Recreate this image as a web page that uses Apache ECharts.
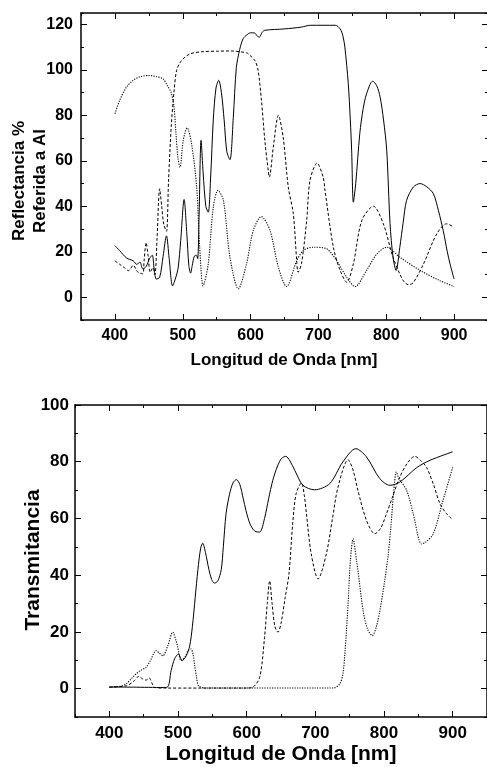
<!DOCTYPE html>
<html lang="es">
<head>
<meta charset="UTF-8">
<title>Reflectancia y Transmitancia</title>
<script src="https://cdn.jsdelivr.net/npm/echarts@6.0.0/dist/echarts.min.js"></script>
<style>
  html, body { margin: 0; padding: 0; background: #fff; }
  #chart { width: 487px; height: 767px; }
</style>
</head>
<body>
<div id="chart"></div>
<script>
// ticks
var xMajor = [400, 500, 600, 700, 800, 900];
var refMajor = [0, 20, 40, 60, 80, 100, 120];
var traMajor = [0, 20, 40, 60, 80, 100];

// Reflectancia % (top plot)
var refSolidNm  = [400, 407, 417, 427, 432, 437, 441, 446, 451, 455, 458, 461, 466, 471, 476, 480, 485, 489, 493, 497, 502, 506, 509, 511.6, 514, 517, 520, 522, 524, 527, 530, 534, 537.6, 541, 545, 549, 553, 557, 561, 565, 569.6, 574.5, 579, 584, 589, 595, 600, 606, 610, 613, 617, 621, 650, 675, 688, 725, 732, 736, 739, 744, 747, 749, 751.5, 755, 761, 766, 771, 780, 786, 791, 796, 800.7, 805.6, 810, 814.5, 820, 825, 830, 840, 850, 860, 869.5, 877, 884, 890, 894, 900];
var refSolidVal = [22.7, 20.5, 17.3, 16, 14.5, 15.4, 12.5, 13.5, 17, 18.5, 12, 8, 8.8, 18, 27, 17, 5, 8, 12.5, 25, 43, 28, 14, 10.6, 14, 18, 18.5, 17, 35, 69, 55, 40, 37.4, 52, 78, 92, 95.4, 90, 78, 64, 60.5, 79, 101, 109, 113.7, 115.5, 116.3, 116.2, 114.8, 114.4, 116.5, 117.4, 118, 118.8, 119.6, 119.6, 118, 115, 110, 94, 78, 64.6, 41.8, 50, 72, 83, 89.5, 95, 93, 88, 78, 64.6, 32.4, 17.6, 11.8, 22, 33, 42.6, 48.5, 50, 48.5, 45.5, 38, 29.3, 20, 14.7, 8];

var refDashNm  = [400, 407, 414, 420, 427, 434, 441, 443, 446, 449, 452, 456, 459, 462, 466, 469, 472, 476, 479, 483, 487, 491, 498, 510.6, 530, 550, 570, 594, 599, 606.5, 611, 616, 621, 626, 627.6, 633.5, 641, 648, 655.6, 663, 668, 670, 675, 682.7, 687.6, 698, 707, 709.7, 722, 732, 741.7, 751.5, 764, 781, 795.7, 810, 825, 833, 840, 855, 874.5, 889, 900];
var refDashVal = [16, 14.5, 13, 11.7, 14, 11, 10.3, 16, 24, 18, 11, 13, 10, 25, 47.7, 40, 32, 29, 51, 75, 90, 99.8, 104, 107, 108, 108.2, 108.3, 107.5, 106.4, 104, 100, 86.6, 69, 55.8, 52.8, 66, 80, 70.4, 48.4, 36.7, 16, 11, 14.7, 33.8, 51.4, 59, 52.8, 47, 22, 11.8, 6.6, 14.7, 33.8, 40, 32.3, 17.6, 7.3, 5.5, 6.5, 14.7, 27.9, 32.3, 30.8];

var refDotNm  = [400, 407, 417, 427, 437, 450, 461.5, 471, 478.6, 483, 487, 490, 493, 496, 500.7, 506.6, 513, 520.5, 525, 530, 537.6, 545, 552, 560, 569.6, 582, 594, 604, 616, 628.6, 641, 653, 668, 678, 692.5, 712, 727, 741.7, 754, 771, 786, 800.7, 820, 850, 879, 900];
var refDotVal = [80.7, 86.6, 92.4, 95.4, 97, 97.5, 97, 96, 92.4, 90, 84, 72, 61, 57.2, 69, 74.5, 67.5, 48.4, 22, 5, 14.7, 39.6, 47, 42.6, 17.6, 3.7, 14.7, 29.4, 35.5, 29.4, 13.2, 4.7, 16, 20.6, 22, 21.3, 16, 8.8, 4.7, 11.8, 19, 22, 17.6, 11.8, 7.3, 4.7];

// Transmitancia (bottom plot)
var traSolidNm  = [400, 440, 483, 490, 495, 500.7, 506, 512, 517, 521, 525, 529, 533, 536, 540, 545, 549, 553, 558, 563, 566, 570, 575, 580, 585, 590, 595, 599, 605, 612, 619, 626, 632, 638, 645, 651, 657, 663, 670, 682, 699, 721, 740, 759, 774.5, 794, 808.5, 823, 847.5, 867, 900];
var traSolidVal = [0.6, 0.5, 0.4, 6.4, 10.5, 12.2, 9.9, 11.6, 15, 22, 32, 42, 49.5, 51.3, 48, 42, 38.5, 37.2, 38, 42, 50, 61.7, 68.5, 72.5, 73.7, 72, 67, 62.8, 58, 55.5, 55.2, 60, 67, 73.4, 78.5, 81.2, 81.9, 80.3, 77, 71.7, 70.1, 72.3, 79.9, 84.6, 81.7, 74, 71.7, 72.8, 77.9, 80.5, 83.5];

var traDashNm  = [400, 425, 435, 443, 448, 453.5, 458, 462, 466, 480, 600, 609, 619, 626, 630, 633.5, 637, 641, 645.6, 650, 656, 661.6, 667, 672, 679.7, 684, 687, 694, 704, 716, 725, 733, 747.7, 755, 762, 774.5, 786.6, 795, 803.7, 813, 823, 834, 845, 853, 862, 872, 881.5, 890, 900];
var traDashVal = [0.5, 1, 2.5, 4.3, 3.5, 3, 3.8, 2, 0.4, 0.2, 0.2, 0.5, 4, 18, 30, 38, 30, 22, 19.9, 23, 32, 40.5, 58, 68.7, 72.5, 68, 61.7, 47.5, 38.7, 47.5, 60, 71, 80.7, 77, 69.9, 59.3, 54.6, 56.5, 61.7, 68, 74.6, 79.5, 81.9, 80.5, 78, 72, 65.2, 62, 59.5];

var traDotNm  = [400, 415, 424, 432, 439, 446, 453.5, 460, 468, 473, 478, 485, 492.4, 497, 499.6, 504.6, 510, 515, 519, 522, 524, 527, 530, 540, 726, 735.6, 740, 743, 747.7, 751, 755, 760, 762, 769.6, 776, 783, 789, 794, 801, 806, 810, 814, 818, 822, 833, 842.5, 854.7, 860, 871.7, 886, 900];
var traDotVal = [0.5, 0.8, 1.6, 3.5, 5.2, 6.5, 7.5, 10, 13.4, 12.5, 11.6, 15, 19.9, 17, 14.6, 9.9, 11, 13.5, 14, 12, 8.7, 4, 1, 0.2, 0.2, 1.7, 5, 12.2, 30, 45, 52.8, 45.2, 41.7, 27.5, 21, 18.7, 22, 27.5, 38, 47, 57, 69, 76.4, 74, 69.9, 61.7, 51, 51.5, 54.6, 66.4, 78];

function zip(a, b) {
  return a.map(function (v, i) { return [v, b[i]]; });
}

// each side of the frame: a short-tick axis (every half step, from min)
// and a long-tick axis on the labelled values
function frameAxes(dim, grid, min, max, step, major, fontSize, margin) {
  var sides = dim === 'x' ? ['bottom', 'top'] : ['left', 'right'];
  var out = [];
  sides.forEach(function (side, s) {
    out.push({
      type: 'value', gridIndex: grid, position: side, min: min, max: max, interval: step,
      axisLine: { show: true, onZero: false, lineStyle: { color: '#000', width: 1.5 } },
      axisTick: { show: true, inside: true, length: 3, lineStyle: { color: '#000', width: 1 } },
      axisLabel: {
        show: s === 0,
        formatter: function (v) { return major.indexOf(v) >= 0 ? String(v) : ''; },
        color: '#000', fontFamily: 'Liberation Sans', fontWeight: 'bold',
        fontSize: fontSize, margin: margin
      },
      splitLine: { show: false }
    });
    out.push({
      type: 'value', gridIndex: grid, position: side, min: min, max: max,
      axisLine: { show: false, onZero: false },
      axisTick: { show: true, inside: true, length: 6, customValues: major, lineStyle: { color: '#000', width: 1 } },
      axisLabel: { show: false },
      splitLine: { show: false }
    });
  });
  return out;
}

function line(name, data, xi, type, w) {
  return {
    name: name, type: 'line', xAxisIndex: xi, yAxisIndex: xi,
    data: data, symbol: 'none', smooth: 0.3,
    lineStyle: { color: '#000', width: w || 1, type: type },
    z: 3
  };
}

var titleFont = { fontFamily: 'Liberation Sans', fontWeight: 'bold', fill: '#000', align: 'center', verticalAlign: 'middle' };
function label(text, x, y, size, rot) {
  return {
    type: 'text', x: x, y: y, rotation: rot ? Math.PI / 2 : 0,
    style: Object.assign({ text: text, fontSize: size }, titleFont)
  };
}

var chart = echarts.init(document.getElementById('chart'), null, { renderer: 'canvas' });
chart.setOption({
  animation: false,
  backgroundColor: '#fff',
  grid: [
    { left: 81, top: 13, width: 407, height: 307, outerBoundsMode: 'none' },
    { left: 75, top: 405, width: 412, height: 312, outerBoundsMode: 'none' }
  ],
  xAxis: frameAxes('x', 0, 350, 950, 50, xMajor, 16, 8)
    .concat(frameAxes('x', 1, 350, 950, 50, xMajor, 17, 8)),
  yAxis: frameAxes('y', 0, -10, 125, 10, refMajor, 16, 8)
    .concat(frameAxes('y', 1, -10, 100, 10, traMajor, 17, 6)),
  series: [
    line('R continua', zip(refSolidNm, refSolidVal), 0, 'solid'),
    line('R discontinua', zip(refDashNm, refDashVal), 0, [3, 2]),
    line('R punteada', zip(refDotNm, refDotVal), 0, [1.2, 1.3], 1.1),
    line('T continua', zip(traSolidNm, traSolidVal), 4, 'solid'),
    line('T discontinua', zip(traDashNm, traDashVal), 4, [3, 2]),
    line('T punteada', zip(traDotNm, traDotVal), 4, [1.2, 1.3], 1.1)
  ],
  graphic: [
    label('Longitud de Onda [nm]', 284, 360.5, 17, false),
    label('Reflectancia %', 19, 181, 17, true),
    label('Referida a Al', 40, 181, 17, true),
    label('Longitud de Onda [nm]', 281, 754.5, 21, false),
    label('Transmitancia', 33, 560, 21, true)
  ]
});
</script>
</body>
</html>
